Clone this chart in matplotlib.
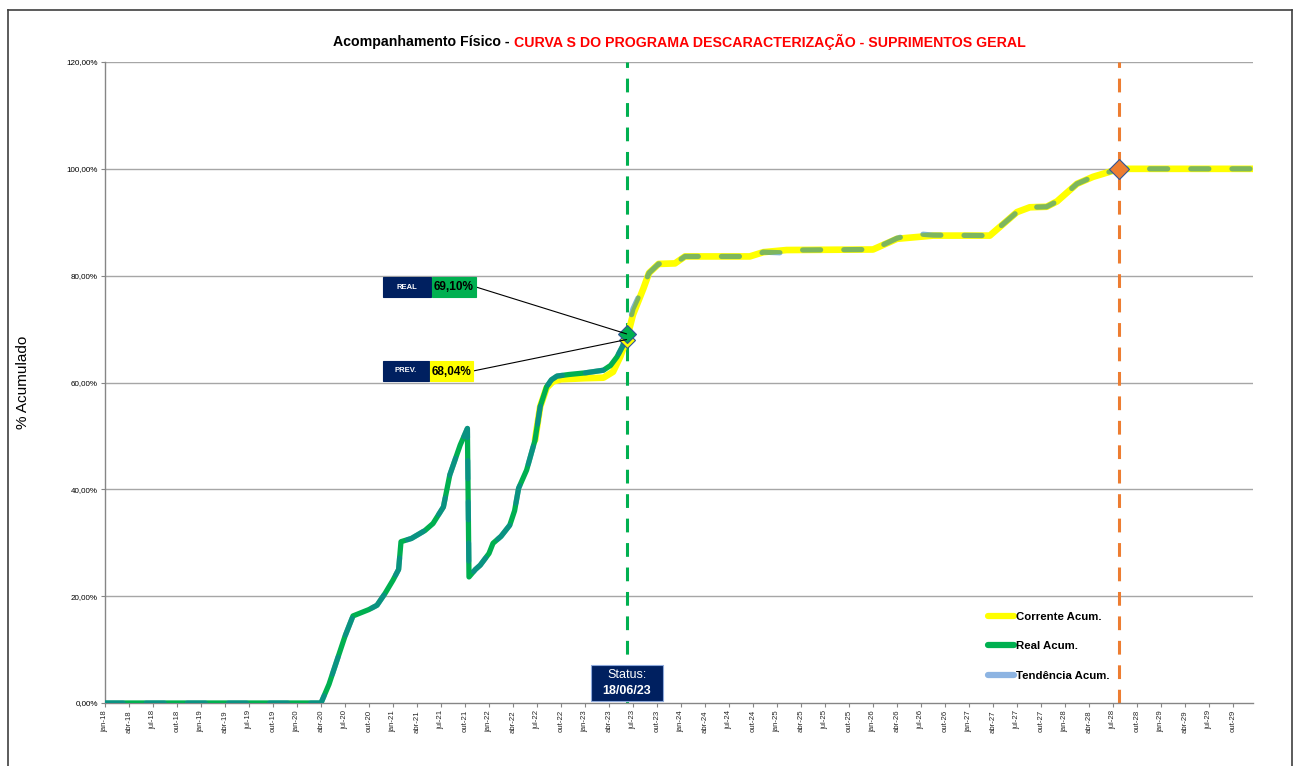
import matplotlib
matplotlib.use("Agg")
import matplotlib.pyplot as plt
from matplotlib.lines import Line2D
from matplotlib.patches import Rectangle, ConnectionPatch

# ---------------- data ----------------
# x = months since jan-2018 (0 = jan-18)
real_m = [0, 27, 28, 29, 30, 31, 32, 33, 34, 35, 36, 36.7, 37, 38.3, 40, 41, 42.3, 43.1, 44.4, 45.3,
          45.5, 46.3, 46.9, 48, 48.5, 49.5, 50.6, 51.2, 51.7, 52.7, 53.75, 54.4, 55.2, 55.8, 56.5, 58,
          60, 62.3, 63.2, 64, 64.7, 65.2]
real_v = [0, 0, 3.5, 8, 12.5, 16.3, 16.9, 17.5, 18.3, 20.5, 23, 25, 30.2, 30.8, 32.3, 33.6, 36.7, 42.7, 48.3, 51.4,
          23.6, 25, 25.8, 28, 29.9, 31.2, 33.3, 36, 40.2, 43.6, 49.2, 55.5, 59.2, 60.5, 61.2, 61.5,
          61.8, 62.3, 63.2, 64.8, 66.8, 69.1]

corr_m = [53.75, 54.4, 55.2, 56, 57, 60, 62.3, 63.5, 64.4, 65.2, 66, 67.3, 68, 69.2, 71.25, 72.5, 80.6,
          82.3, 85.2, 96, 99, 103.5, 110.6, 114, 115.6, 117.7, 119, 121.5, 123.5, 126.8, 143.5]
corr_v = [49.2, 55.5, 59.0, 60.2, 60.6, 60.8, 60.9, 62.0, 64.8, 68.04, 72.7, 77.6, 80.5, 82.2, 82.3, 83.6, 83.6,
          84.4, 84.8, 84.9, 86.9, 87.5, 87.5, 91.9, 92.8, 92.9, 93.9, 97.2, 98.5, 100, 100]

tend_m = real_m + [66, 67.3, 68, 69.2, 71.25, 72.5, 80.6, 82.3, 84.2, 85.6, 87, 96, 99, 101, 103.5,
                   110.6, 114, 115.6, 117.7, 119, 121.5, 123.5, 126.8, 143.5]
tend_v = real_v + [73.8, 78.0, 80.5, 82.2, 82.3, 83.6, 83.6, 84.4, 84.3, 84.2, 84.8, 84.9, 87.0, 87.9, 87.6,
                   87.5, 91.9, 92.8, 92.9, 93.9, 97.2, 98.5, 100, 100]

status_m = 65.2
status_label = "18/06/23"
end_m = 126.8
real_now = 69.10
prev_now = 68.04

tick_months = list(range(0, 142, 3))
month_names = ["jan", "abr", "jul", "out"]
tick_labels = [f"{month_names[(m % 12) // 3]}-{18 + m // 12}" for m in tick_months]
y_ticks = [0, 20, 40, 60, 80, 100, 120]
y_labels = [f"{v},00%" for v in y_ticks]

# ---------------- figure ----------------
W, H = 1297, 766
fig = plt.figure(figsize=(W / 100, H / 100), dpi=100)
ARIAL = ["Liberation Sans", "DejaVu Sans"]


def fx(x):
    return x / W


def fy(y):
    return 1 - y / H


ax = fig.add_axes([fx(105), fy(703), fx(1253) - fx(105), fy(62) - fy(703)])
ax.set_xlim(0, 143.5)
ax.set_ylim(0, 120)

# grid
for v in y_ticks[1:]:
    ax.axhline(v, color="#A6A6A6", lw=1.0, zorder=1)

for s in ["top", "right"]:
    ax.spines[s].set_visible(False)
for s in ["left", "bottom"]:
    ax.spines[s].set_color("#868686")
    ax.spines[s].set_linewidth(1.0)

ax.set_yticks(y_ticks)
ax.set_yticklabels(y_labels, fontsize=5.8, family=ARIAL)
ax.set_xticks(tick_months)
ax.set_xticklabels(tick_labels, rotation=90, fontsize=5.6, family=ARIAL, color="#262626")
ax.tick_params(axis="both", direction="out", length=3, width=0.8, color="#868686", pad=2)
ax.set_ylabel("% Acumulado", fontsize=11, family=ARIAL)
ax.yaxis.set_label_coords((30 - 105) / 1148, 0.5)

# vertical lines
ax.axvline(status_m, color="#00B050", lw=2.2, ls=(0, (4.5, 3.5)), zorder=2)
ax.axvline(end_m, color="#ED7D31", lw=2.2, ls=(0, (4.5, 3.5)), zorder=2)

# curves
ax.plot(corr_m, corr_v, color="#FFFF00", lw=4.8, solid_capstyle="round", solid_joinstyle="round", zorder=3)
ax.plot(real_m, real_v, color="#00B050", lw=3.8, solid_capstyle="round", solid_joinstyle="round", zorder=4)
ax.plot(tend_m, tend_v, color="#137AAD", alpha=0.55, lw=3.8, dashes=(3.4, 4.4),
        dash_capstyle="round", dash_joinstyle="round", zorder=5)

# markers
ax.plot([status_m], [prev_now], marker="D", ms=8, mfc="#FFFF00", mec="#2F5597", mew=0.8, zorder=7)
ax.plot([status_m], [real_now], marker="D", ms=9, mfc="#00B050", mec="#2F5597", mew=0.8, zorder=7)
ax.plot([end_m], [100], marker="D", ms=10, mfc="#ED7D31", mec="#2F5597", mew=0.8, zorder=7)


# annotation boxes
def box(x0, y0, x1, y1, color, edge=None):
    r = Rectangle((fx(x0), fy(y1)), fx(x1) - fx(x0), fy(y0) - fy(y1), transform=fig.transFigure,
                  facecolor=color, edgecolor=edge if edge else color, lw=0.8, zorder=10)
    fig.add_artist(r)


box(383, 277, 431, 297, "#002060")
box(432, 277, 476, 297, "#00B050")
fig.text(fx(407), fy(287), "REAL", color="white", fontsize=5.5, fontweight="bold", family=ARIAL,
         ha="center", va="center", zorder=11)
fig.text(fx(454), fy(287.5), f"{real_now:.2f}%".replace(".", ","), color="black", fontsize=8.5,
         fontweight="bold", family=ARIAL, ha="center", va="center", zorder=11)

box(383, 361, 429, 381, "#002060")
box(430, 361, 473, 381, "#FFFF00")
fig.text(fx(406), fy(371), "PREV.", color="white", fontsize=5.5, fontweight="bold", family=ARIAL,
         ha="center", va="center", zorder=11)
fig.text(fx(451.5), fy(371.5), f"{prev_now:.2f}%".replace(".", ","), color="black", fontsize=8.5,
         fontweight="bold", family=ARIAL, ha="center", va="center", zorder=11)

for (px_, py_), val in [((476, 287), real_now), ((473, 371), prev_now)]:
    cp = ConnectionPatch(xyA=(fx(px_), fy(py_)), coordsA=fig.transFigure,
                         xyB=(status_m, val), coordsB=ax.transData, color="black", lw=0.8, zorder=6)
    fig.add_artist(cp)

# status box
box(591, 665, 663, 701, "#002060", edge="#8EA9DB")
fig.text(fx(627), fy(675), "Status:", color="white", fontsize=9, family=ARIAL,
         ha="center", va="center", zorder=11)
fig.text(fx(627), fy(691), status_label, color="white", fontsize=9, fontweight="bold", family=ARIAL,
         ha="center", va="center", zorder=11)

# legend
handles = [Line2D([], [], color="#FFFF00", lw=4.5, solid_capstyle="round"),
           Line2D([], [], color="#00B050", lw=4.5, solid_capstyle="round"),
           Line2D([], [], color="#8DB4E2", lw=4.5, solid_capstyle="round")]
labels = ["Corrente Acum.", "Real Acum.", "Tendência Acum."]
fig.legend(handles, labels, loc="upper left", bbox_to_anchor=(fx(988), fy(612)),
           frameon=False, prop={"family": ARIAL, "size": 8.2, "weight": "bold"},
           handlelength=2.3, handletextpad=0.15, labelspacing=1.7, borderpad=0, borderaxespad=0)

# title (two colours)
t1 = fig.text(fx(333), fy(42), "Acompanhamento Físico - ", color="black", fontsize=10.2,
              fontweight="bold", family=ARIAL, ha="left", va="center")
fig.canvas.draw()
bb = t1.get_window_extent(renderer=fig.canvas.get_renderer())
fig.text(bb.x1 / W, fy(42), "CURVA S DO PROGRAMA DESCARACTERIZAÇÃO - SUPRIMENTOS GERAL", color="#FF0000",
         fontsize=10.2, fontweight="bold", family=ARIAL, ha="left", va="center")

# outer border
for (x0, y0, x1, y1) in [(7.5, 9.5, 1291.5, 9.5), (7.5, 9.5, 7.5, 766), (1291.5, 9.5, 1291.5, 766)]:
    fig.add_artist(Line2D([fx(x0), fx(x1)], [fy(y0), fy(y1)], transform=fig.transFigure,
                          color="#404040", lw=1.2))

fig.savefig("out.png", dpi=100)
